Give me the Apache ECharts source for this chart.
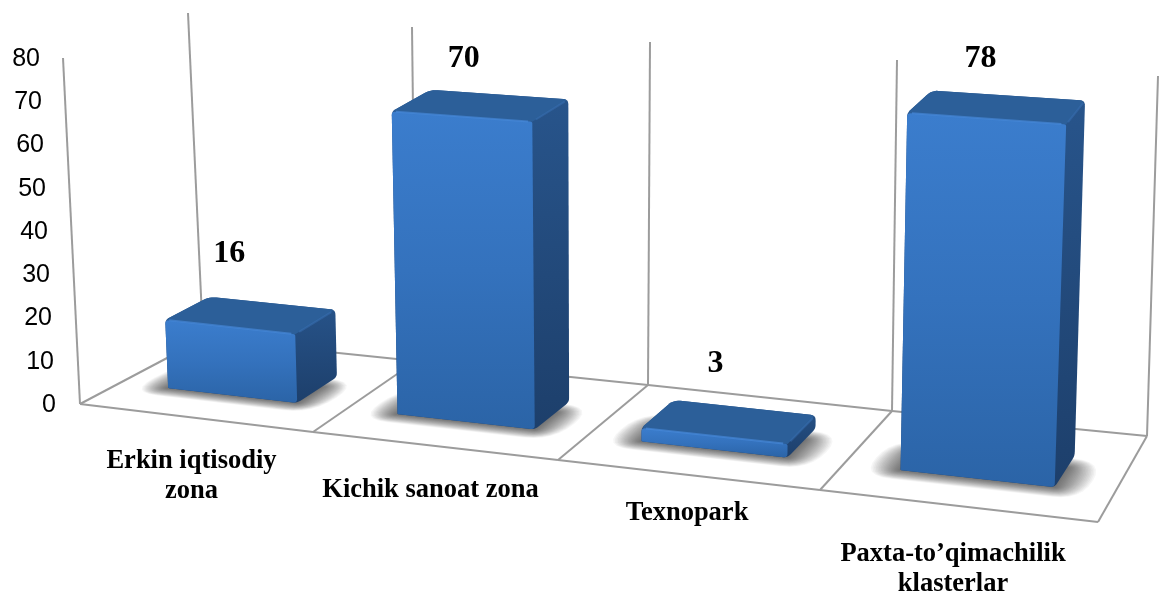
<!DOCTYPE html>
<html>
<head>
<meta charset="utf-8">
<style>html,body{margin:0;padding:0;background:#fff}#c{width:1161px;height:593px}</style>
<script src="https://cdn.jsdelivr.net/npm/echarts@6/dist/echarts.min.js"></script>
</head>
<body>
<div id="c"></div>
<script>
const categories = ['Erkin iqtisodiy\nzona', 'Kichik sanoat zona', 'Texnopark', 'Paxta-to\u2019qimachilik\nklasterlar'];
const values = [16, 70, 3, 78];
const yTicks = [0, 10, 20, 30, 40, 50, 60, 70, 80];

// Layout of the perspective box (not data): one point per category boundary
const FLOOR_FRONT = [[80,404],[313,432],[558,460],[820,490],[1098,522]];
const FLOOR_BACK  = [[203,339],[416,361],[648,385],[892,411],[1147,436]];
const TOP_FRONT   = [[63,58],[303,83],[555,101],[825,119],[1113,141]];
const TOP_BACK    = [[188,13],[412,27],[650,42],[897,60],[1158,76]];
const BAR_U = [0.21, 0.78], BAR_V = [0.33, 0.70];
const VALUE_NUDGE = [[-22,-61],[-17,-47],[-14,-58],[-17,-48]];
const CAT_NUDGE = [[-5,43],[-5,44],[-2,38],[-6,48]];
const SERIF = '"Liberation Serif","Times New Roman",serif';

function along(arr,u){
  const s=Math.max(0,Math.min(arr.length-2,Math.floor(u*(arr.length-1)))), f=u*(arr.length-1)-s;
  return [arr[s][0]+(arr[s+1][0]-arr[s][0])*f, arr[s][1]+(arr[s+1][1]-arr[s][1])*f];
}
function mix(a,b,f){return [a[0]+(b[0]-a[0])*f,a[1]+(b[1]-a[1])*f];}
function P(u,v,t){
  const f=mix(along(FLOOR_FRONT,u),along(FLOOR_BACK,u),v);
  const c=mix(along(TOP_FRONT,u),along(TOP_BACK,u),v);
  return mix(f,c,t);
}
function roundPoly(pts, radii){
  const out=[], n=pts.length;
  pts.forEach((p,i)=>{
    const r=radii[i], a=pts[(i+n-1)%n], b=pts[(i+1)%n];
    if(!r){out.push(p);return;}
    const la=Math.hypot(a[0]-p[0],a[1]-p[1]), lb=Math.hypot(b[0]-p[0],b[1]-p[1]);
    const ra=Math.min(r,la/2)/la, rb=Math.min(r,lb/2)/lb;
    const s=[p[0]+(a[0]-p[0])*ra,p[1]+(a[1]-p[1])*ra], e=[p[0]+(b[0]-p[0])*rb,p[1]+(b[1]-p[1])*rb];
    for(let k=0;k<=6;k++){
      const q=k/6, m=1-q;
      out.push([m*m*s[0]+2*m*q*p[0]+q*q*e[0], m*m*s[1]+2*m*q*p[1]+q*q*e[1]]);
    }
  });
  return out;
}
const vGrad=(a,b,c)=>new echarts.graphic.LinearGradient(0,0,0,1,c?[{offset:0,color:a},{offset:.5,color:b},{offset:1,color:c}]:[{offset:0,color:a},{offset:1,color:b}]);
const poly=(points,style)=>({type:'polygon',silent:true,shape:{points},style});
const line=(a,b,stroke,w)=>({type:'line',silent:true,shape:{x1:a[0],y1:a[1],x2:b[0],y2:b[1]},style:{stroke,lineWidth:w,lineCap:'butt'}});
const inset=(a,b,f)=>[mix(a,b,f),mix(b,a,f)];

function renderFrame(params,api){
  const idx=params.dataIndex, c='#9c9c9c', w=2, cs=[];
  const u=idx/categories.length;
  cs.push(line(P(u,0,0),P(u,1,0),c,w));
  cs.push(line(P(u,1,0),P(u,1,1),c,w));
  if(idx===0){
    cs.push(line(P(0,0,0),P(0,0,1),c,w));
    FLOOR_FRONT.slice(1).forEach((p,k)=>cs.push(line(FLOOR_FRONT[k],p,c,w)));
    FLOOR_BACK.slice(1).forEach((p,k)=>cs.push(line(FLOOR_BACK[k],p,c,w)));
  }
  return {type:'group',children:cs};
}
function renderBar(params,api){
  const cs=params.coordSys, i=api.value(0), val=api.value(1);
  const cx=api.coord([i,val]), band=api.size([1,0])[0];
  const left=(cx[0]-band/2-cs.x)/cs.width, n=band/cs.width;
  const t=(cs.y+cs.height-cx[1])/cs.height;
  const u0=left+BAR_U[0]*n, u1=left+BAR_U[1]*n, v0=BAR_V[0], v1=BAR_V[1];
  const fb0=P(u0,v0,0), fb1=P(u1,v0,0), bb1=P(u1,v1,0);
  const ft0=P(u0,v0,t), ft1=P(u1,v0,t), bt1=P(u1,v1,t), bt0=P(u0,v1,t);
  const ch=[];
  for(let k=20;k>=1;k--){
    const eu=k*0.0015, ev=k*0.0055;
    const sh=[P(u0-eu,v0-ev,0),P(u1+eu,v0-ev,0),P(u1+eu,v1-0.14+ev,0),P(u0-eu,v1-0.14+ev,0)];
    ch.push(poly(roundPoly(sh,[k*1.5,k*1.5,k*1.5,k*1.5]),{fill:'rgba(0,0,0,0.035)'}));
  }
  ch.push(poly(roundPoly([fb0,fb1,bb1,bt1,bt0,ft0],[1,4,4,5,7,4]),{fill:vGrad('#28558c','#1d3f6b')}));
  ch.push(poly(roundPoly([ft0,ft1,bt1,bt0],[4,0,5,7]),{fill:'#2c5f99'}));
  ch.push(poly(roundPoly([fb0,fb1,ft1,ft0],[1,4,2,4]),{fill:vGrad('#3b7dcd','#3472bd','#2b64a7')}));
  let s=inset(ft0,ft1,0.03);
  ch.push(line(s[0],s[1],'rgba(70,135,215,0.7)',2));
  s=inset(ft1,bt1,0.1);
  ch.push(line(s[0],s[1],'rgba(60,115,185,0.45)',2));
  const nv=VALUE_NUDGE[i], m=P((u0+u1)/2,(v0+v1)/2,t);
  ch.push({type:'text',silent:true,style:{text:String(val),x:m[0]+nv[0],y:m[1]+nv[1],align:'center',verticalAlign:'middle',
    fill:'#000',font:'bold 32px '+SERIF}});
  const nc=CAT_NUDGE[i], f=P(left+n/2,0,0);
  ch.push({type:'text',silent:true,style:{text:categories[i],x:f[0]+nc[0],y:f[1]+nc[1]-15,align:'center',verticalAlign:'top',
    fill:'#000',font:'bold 26.5px '+SERIF,lineHeight:30}});
  return {type:'group',children:ch};
}

const yRich={};
yTicks.forEach(v=>{yRich['v'+v]={fontFamily:'"Liberation Sans",Arial,sans-serif',fontSize:25,color:'#000',padding:[0,(v/80)*16,0,0]};});

const chart=echarts.init(document.getElementById('c'),null,{renderer:'canvas'});
chart.setOption({
  animation:false,
  backgroundColor:'#fff',
  grid:{left:60,right:60,top:59,bottom:188},
  xAxis:{type:'category',data:categories,axisLine:{show:false},axisTick:{show:false},axisLabel:{show:false},splitLine:{show:false}},
  yAxis:{type:'value',min:0,max:80,interval:10,axisLine:{show:false},axisTick:{show:false},splitLine:{show:false},
    axisLabel:{margin:4,formatter:v=>'{v'+v+'|'+v+'}',rich:yRich}},
  series:[
    {type:'custom',coordinateSystem:'cartesian2d',renderItem:renderFrame,silent:true,z:1,
      data:[0,1,2,3,4].map(k=>[k,0]),encode:{x:0,y:1}},
    {type:'custom',coordinateSystem:'cartesian2d',renderItem:renderBar,silent:true,z:2,
      data:values.map((v,i)=>[i,v]),encode:{x:0,y:1}}
  ]
});
</script>
</body>
</html>
